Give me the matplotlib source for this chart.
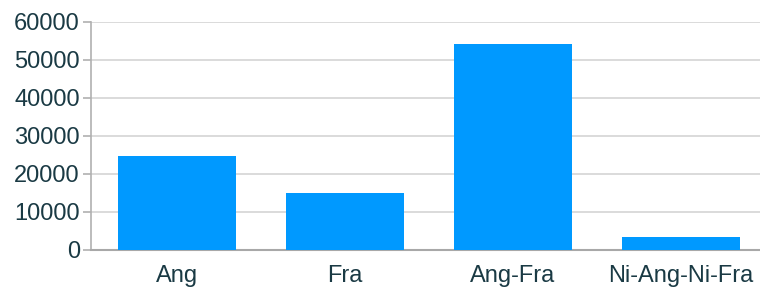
import matplotlib.pyplot as plt

categories = ["Ang", "Fra", "Ang-Fra", "Ni-Ang-Ni-Fra"]
values = [24700, 14900, 54200, 3300]
yticks = [0, 10000, 20000, 30000, 40000, 50000, 60000]

plt.rcParams['font.family'] = ['Liberation Sans', 'DejaVu Sans']

fig = plt.figure(figsize=(7.6, 2.9), dpi=100)
ax = fig.add_axes([91 / 760, 40.5 / 290, 1 - 91 / 760, 227.5 / 290])

ax.bar(range(len(categories)), values, width=0.70, color="#0099ff", zorder=3)

ax.set_xlim(-0.512, 3.470)
ax.set_ylim(0, 60000)
ax.set_yticks(yticks)
ax.set_yticklabels([str(v) for v in yticks])
ax.set_xticks(range(len(categories)))
ax.set_xticklabels(categories)

ax.grid(axis="y", color="#d4d4d4", linewidth=1.2, zorder=0)
ax.tick_params(axis="y", length=6, width=1.2, color="#b0b0b0", labelsize=17,
               labelcolor="#1a3a44", pad=2)
ax.tick_params(axis="x", length=0, labelsize=17, labelcolor="#1a3a44", pad=11)

for side in ["top", "right"]:
    ax.spines[side].set_visible(False)
ax.spines["left"].set_color("#b0b0b0")
ax.spines["bottom"].set_color("#a8a8a8")
ax.spines["left"].set_linewidth(1.2)
ax.spines["bottom"].set_linewidth(1.5)

fig.savefig("out.png", dpi=100)
